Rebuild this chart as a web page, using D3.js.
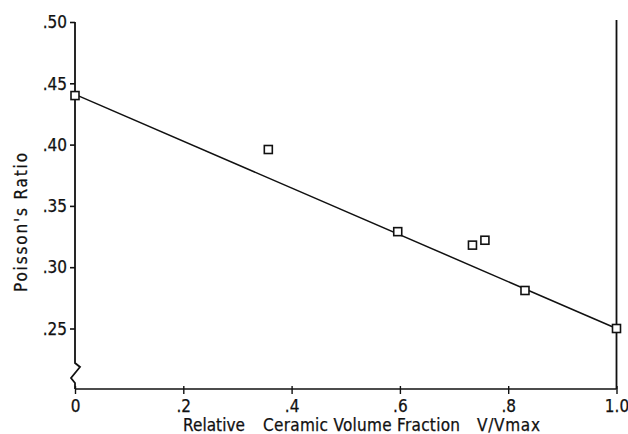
<!DOCTYPE html>
<html>
<head>
<meta charset="utf-8">
<script src="https://cdn.jsdelivr.net/npm/d3@7/dist/d3.min.js"></script>
<style>
  html, body { margin: 0; padding: 0; background: #fff; }
  svg { display: block; }
  text { font-family: "DejaVu Sans Condensed", "Liberation Sans Narrow", "DejaVu Sans", sans-serif; fill: #111; stroke: #111; stroke-width: 0.25px; }
</style>
</head>
<body>
<svg id="chart" width="628" height="434"></svg>
<script>
// Measured points: relative ceramic volume fraction vs. Poisson's ratio
const fractions = [0, 0.357, 0.596, 0.734, 0.757, 0.831, 1.0];
const poisson   = [0.440, 0.396, 0.329, 0.318, 0.322, 0.281, 0.250];

// Straight-line fit through the data
const fitX = [0, 1.0];
const fitY = [0.441, 0.250];

// Axis ticks
const xTickValues = [0, 0.2, 0.4, 0.6, 0.8, 1.0];
const xTickLabels = ["0", ".2", ".4", ".6", ".8", "1.0"];
const yTickValues = [0.25, 0.30, 0.35, 0.40, 0.45, 0.50];
const yTickLabels = [".25", ".30", ".35", ".40", ".45", ".50"];

const ink = "#111";
const svg = d3.select("#chart");

const left = 75, right = 616.5, baseY = 389;
const x = d3.scaleLinear().domain([0, 1]).range([left, right]);
const y = d3.scaleLinear().domain([0.25, 0.50]).range([328.5, 22]);

// Y axis ticks and labels (domain drawn separately to show the break)
const yAxis = svg.append("g")
  .attr("transform", `translate(${left},0)`)
  .call(d3.axisLeft(y).tickValues(yTickValues)
    .tickFormat((d, i) => yTickLabels[i]).tickSize(5).tickPadding(3));
yAxis.select(".domain").remove();
yAxis.selectAll(".tick line").attr("stroke", ink).attr("stroke-width", 1.6);
yAxis.selectAll(".tick text").attr("font-size", 17).attr("font-family", null)
  .attr("fill", null).attr("dy", "0.34em");

// Y axis line with a zigzag break below .25
const yTop = y(0.50);
const brk = baseY - 26;
svg.append("path")
  .attr("d", `M${left},${yTop} L${left},${brk} L${left + 5},${brk + 4} L${left - 4},${brk + 15} L${left},${brk + 20} L${left},${baseY}`)
  .attr("fill", "none").attr("stroke", ink).attr("stroke-width", 1.8)
  .attr("stroke-linejoin", "miter");

// X axis
const xAxis = svg.append("g")
  .attr("transform", `translate(0,${baseY})`)
  .call(d3.axisBottom(x).tickValues(xTickValues)
    .tickFormat((d, i) => xTickLabels[i]).tickSize(5).tickPadding(6));
xAxis.select(".domain").remove();
xAxis.selectAll(".tick line").attr("y1", -3).attr("y2", 5)
  .attr("stroke", ink).attr("stroke-width", 1.4);
xAxis.selectAll(".tick text").attr("font-size", 17).attr("font-family", null)
  .attr("fill", null);

svg.append("line")
  .attr("x1", left).attr("x2", right).attr("y1", baseY).attr("y2", baseY)
  .attr("stroke", ink).attr("stroke-width", 1.6);

// Right-hand frame line at V/Vmax = 1
svg.append("line")
  .attr("x1", x(1)).attr("x2", x(1)).attr("y1", 20).attr("y2", baseY)
  .attr("stroke", ink).attr("stroke-width", 1.8);

// Fitted line
svg.append("path")
  .datum(fitX.map((v, i) => [v, fitY[i]]))
  .attr("d", d3.line().x(d => x(d[0])).y(d => y(d[1])))
  .attr("fill", "none").attr("stroke", ink).attr("stroke-width", 1.5);

// Square markers
const s = 8;
svg.append("g").selectAll("rect")
  .data(fractions.map((v, i) => [v, poisson[i]]))
  .join("rect")
  .attr("x", d => x(d[0]) - s / 2)
  .attr("y", d => y(d[1]) - s / 2)
  .attr("width", s).attr("height", s)
  .attr("fill", "#fff").attr("stroke", ink).attr("stroke-width", 1.6);

// Axis titles
svg.append("text")
  .attr("transform", "translate(27,222.5) rotate(-90)")
  .attr("text-anchor", "middle")
  .attr("font-size", 17)
  .attr("textLength", 139).attr("lengthAdjust", "spacing")
  .text("Poisson's Ratio");

const xTitle = [
  { t: "Relative", x0: 183, w: 62 },
  { t: "Ceramic Volume Fraction", x0: 263, w: 197 },
  { t: "V/Vmax", x0: 477, w: 63 }
];
svg.append("g").selectAll("text")
  .data(xTitle)
  .join("text")
  .attr("x", d => d.x0).attr("y", 431)
  .attr("font-size", 17)
  .attr("textLength", d => d.w).attr("lengthAdjust", "spacing")
  .text(d => d.t);
</script>
</body>
</html>
